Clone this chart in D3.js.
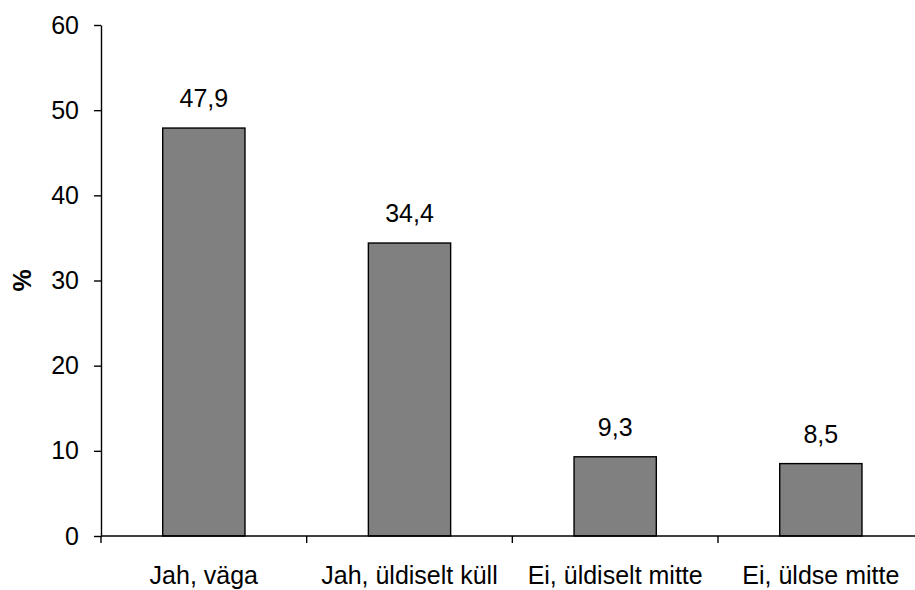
<!DOCTYPE html>
<html>
<head>
<meta charset="utf-8">
<script src="https://cdn.jsdelivr.net/npm/d3@7"></script>
<style>
  html, body { margin: 0; padding: 0; background: #fff; }
  svg { display: block; font-family: "Liberation Sans", Arial, sans-serif; }
</style>
</head>
<body>
<svg id="chart" width="915" height="590"></svg>
<script>
const categories = ["Jah, väga", "Jah, üldiselt küll", "Ei, üldiselt mitte", "Ei, üldse mitte"];
const values = [47.9, 34.4, 9.3, 8.5];
const yTicks = [0, 10, 20, 30, 40, 50, 60];
const yLabel = "%";

(function () {
const svg = d3.select("#chart");
const plotLeft = 101, plotTop = 25, plotBottom = 536, step = 205.67;

const x = d3.scaleBand().domain(categories).range([plotLeft, plotLeft + step * categories.length]).padding(0);
const y = d3.scaleLinear().domain([0, 60]).range([plotBottom, plotTop]);
const fmt = v => String(v).replace(".", ",");
const barW = x.bandwidth() * 0.4;

// bars
svg.append("g").selectAll("rect").data(values).join("rect")
  .attr("x", (d, i) => x(categories[i]) + x.bandwidth() / 2 - barW / 2)
  .attr("y", d => y(d))
  .attr("width", barW)
  .attr("height", d => y(0) - y(d))
  .attr("fill", "#808080")
  .attr("stroke", "#000")
  .attr("stroke-width", 1.4);

// value labels
svg.append("g").selectAll("text").data(values).join("text")
  .attr("x", (d, i) => x(categories[i]) + x.bandwidth() / 2)
  .attr("y", d => y(d) - 21)
  .attr("text-anchor", "middle")
  .attr("font-size", "25px")
  .attr("fill", "#000")
  .text(d => fmt(d));

// y axis
const yAxis = svg.append("g").attr("transform", `translate(${plotLeft},0)`)
  .call(d3.axisLeft(y).tickValues(yTicks).tickSize(7).tickSizeOuter(0).tickPadding(15).tickFormat(d3.format("d")));
yAxis.selectAll("text").attr("font-size", "25px").attr("fill", "#000").attr("font-family", "Liberation Sans, Arial, sans-serif");
yAxis.selectAll("line, path").attr("stroke", "#000").attr("stroke-width", 1.4);

// x axis line
svg.append("line")
  .attr("x1", plotLeft).attr("x2", 915)
  .attr("y1", y(0)).attr("y2", y(0))
  .attr("stroke", "#000").attr("stroke-width", 1.4);

// x boundary ticks
const bounds = categories.map(c => x(c)).concat([x.range()[1]]);
svg.append("g").selectAll("line").data(bounds).join("line")
  .attr("x1", d => d).attr("x2", d => d)
  .attr("y1", y(0)).attr("y2", y(0) + 7)
  .attr("stroke", "#000").attr("stroke-width", 1.4);

// category labels
svg.append("g").selectAll("text").data(categories).join("text")
  .attr("x", c => x(c) + x.bandwidth() / 2)
  .attr("y", 584)
  .attr("text-anchor", "middle")
  .attr("font-size", "25px")
  .attr("fill", "#000")
  .text(c => c);

// y label
svg.append("text")
  .attr("transform", `translate(31,${(plotTop + plotBottom) / 2}) rotate(-90)`)
  .attr("text-anchor", "middle")
  .attr("font-size", "25px")
  .attr("font-weight", "bold")
  .attr("fill", "#000")
  .text(yLabel);
})();
</script>
</body>
</html>
